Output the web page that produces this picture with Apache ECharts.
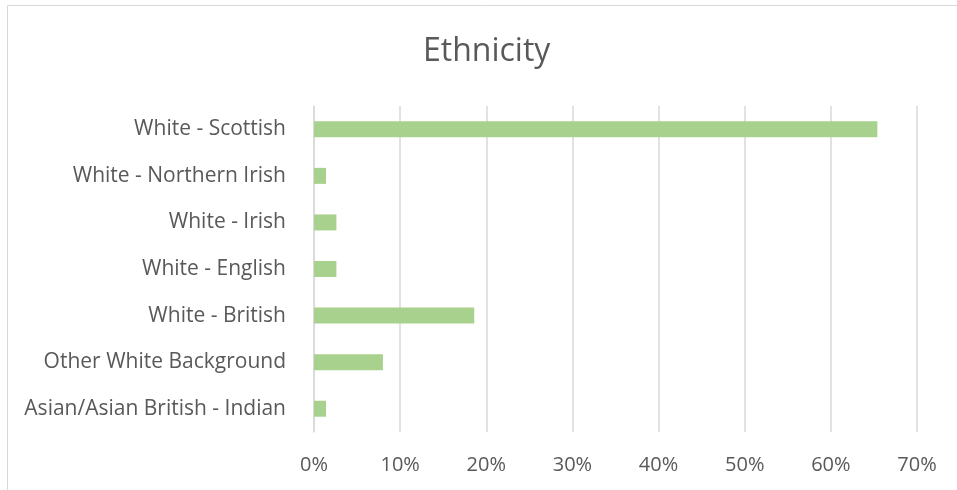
<!DOCTYPE html>
<html>
<head>
<meta charset="utf-8">
<script src="https://cdn.jsdelivr.net/npm/echarts@6/dist/echarts.min.js"></script>
<style>
html,body{margin:0;padding:0;background:#fff;}
#chart{width:957px;height:490px;}
</style>
</head>
<body>
<div id="chart"></div>
<script>
const categories = [
  "White - Scottish",
  "White - Northern Irish",
  "White - Irish",
  "White - English",
  "White - British",
  "Other White Background",
  "Asian/Asian British - Indian"
];
const values = [65.4, 1.4, 2.6, 2.6, 18.6, 8.0, 1.4];
const xTicks = [0, 10, 20, 30, 40, 50, 60, 70];

const chart = echarts.init(document.getElementById('chart'), null, {renderer: 'canvas'});
const font = "'Open Sans', 'Noto Sans', sans-serif";
chart.setOption({
  animation: false,
  backgroundColor: '#fff',
  graphic: [{
    type: 'rect',
    shape: {x: 7.5, y: 5.5, width: 960, height: 500},
    style: {fill: 'none', stroke: '#d9d9d9', lineWidth: 1},
    silent: true
  }],
  title: {
    text: 'Ethnicity',
    left: 418,
    top: 31,
    textStyle: {fontFamily: font, fontSize: 32, fontWeight: 'normal', color: '#595959'}
  },
  grid: {left: 314, right: 40, top: 106, bottom: 58, containLabel: false},
  xAxis: {
    type: 'value',
    min: xTicks[0],
    max: xTicks[xTicks.length - 1],
    interval: 10,
    axisLine: {show: false},
    axisTick: {show: false},
    splitLine: {show: true, lineStyle: {color: '#d9d9d9', width: 1.5}},
    axisLabel: {
      formatter: v => v + '%',
      fontFamily: font, fontSize: 20, color: '#595959', margin: 23
    }
  },
  yAxis: {
    type: 'category',
    inverse: true,
    data: categories,
    axisLine: {show: true, lineStyle: {color: '#d9d9d9', width: 1.5}},
    axisTick: {show: false},
    axisLabel: {fontFamily: font, fontSize: 21, color: '#595959', margin: 28}
  },
  series: [{
    type: 'bar',
    data: values,
    barWidth: 16,
    itemStyle: {color: '#a9d18e'}
  }]
});
</script>
</body>
</html>
